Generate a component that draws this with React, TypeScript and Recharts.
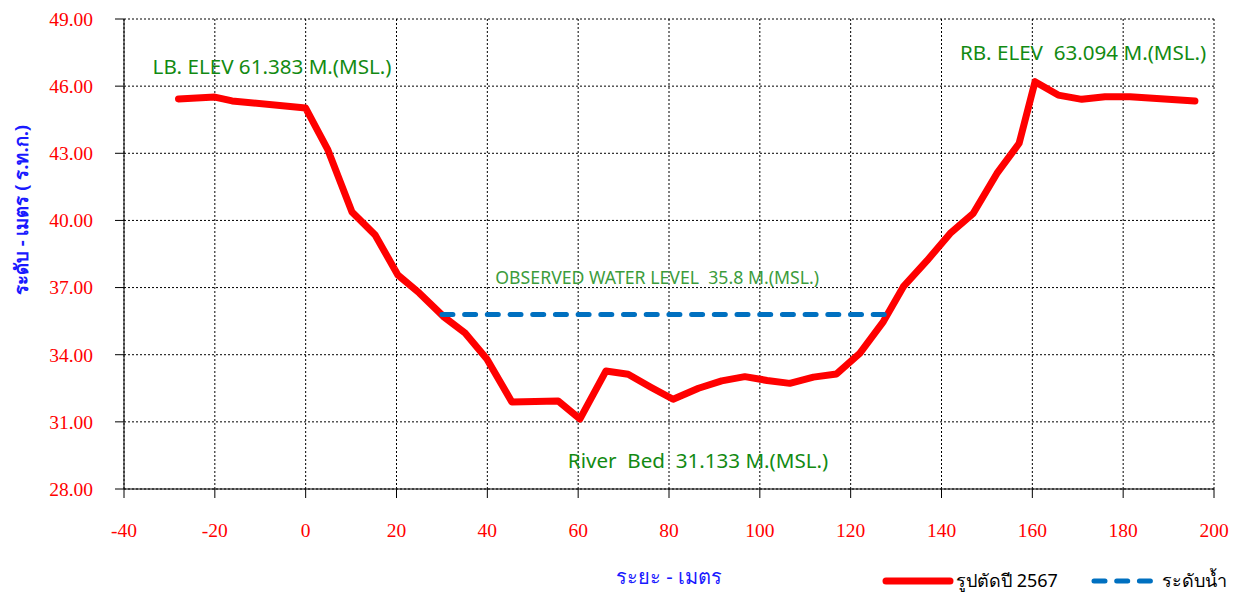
import React from 'react';
import {
  LineChart, Line, XAxis, YAxis, CartesianGrid, ReferenceDot,
} from 'recharts';

// cross-section survey points (distance m, elevation m MSL)
const distances = [-28, -20, -16.2, 0, 4.9, 10.2, 15.3, 20.3, 25, 30.5, 35.1, 39.9, 45.4, 55.6, 60.4, 66.1, 71, 76, 80.9, 86.5, 91.6, 96.7, 101.6, 106.6, 111.8, 116.9, 122, 127.2, 131.6, 136.8, 141.9, 147, 152.2, 157.1, 160.6, 165.7, 170.9, 176, 181.5, 195.8];
const elevations = [45.43, 45.51, 45.34, 45.02, 43.15, 40.38, 39.35, 37.56, 36.76, 35.68, 34.97, 33.81, 31.89, 31.93, 31.13, 33.27, 33.13, 32.55, 32.01, 32.5, 32.83, 33.02, 32.85, 32.72, 33.0, 33.14, 34.06, 35.48, 37.04, 38.2, 39.42, 40.32, 42.1, 43.45, 46.2, 45.6, 45.41, 45.53, 45.53, 45.34];

const waterX = [30, 127.8];
const waterLevel = [35.8, 35.8];

const xTicks = [-40, -20, 0, 20, 40, 60, 80, 100, 120, 140, 160, 180, 200];
const yTicks = [28, 31, 34, 37, 40, 43, 46, 49];

const noteText = [
  'LB. ELEV 61.383 M.(MSL.)',
  'RB. ELEV\u00a0\u00a063.094 M.(MSL.)',
  'OBSERVED WATER LEVEL\u00a0\u00a035.8 M.(MSL.)',
  'River\u00a0\u00a0Bed\u00a0\u00a031.133 M.(MSL.)',
];
const noteX = [-7.4, 171.2, 77.4, 86.4];
const noteY = [46.86, 47.48, 37.43, 29.25];

const seriesNames = ['รูปตัดปี 2567', 'ระดับน้ำ'];

const profile = distances.map((x, i) => ({ x, y: elevations[i] }));
const water = waterX.map((x, i) => ({ x, y: waterLevel[i] }));

const tickFont = { fill: '#ff0000', fontSize: 19.5, fontFamily: '"Liberation Serif", serif' };

const YTitle = (props: any) => {
  const { viewBox } = props;
  const cx = viewBox.x + 20;
  const cy = 210;
  return (
    <text
      x={cx}
      y={cy}
      transform={`rotate(-90, ${cx}, ${cy})`}
      textAnchor="middle"
      dominantBaseline="central"
      fill="#1a1aff"
      fontWeight="bold"
      fontSize={18.5}
      fontFamily='"Noto Sans", sans-serif'
    >
      ระดับ - เมตร ( ร.ท.ก.)
    </text>
  );
};

export default function App() {
  return (
    <div style={{ position: 'absolute', left: 0, top: 0, width: 1239, height: 595, background: '#fff' }}>
      <LineChart
        width={1239}
        height={595}
        margin={{ top: 19, right: 25, left: 0, bottom: 0 }}
      >
        <CartesianGrid stroke="#000" strokeDasharray="2 2" strokeWidth={1} />
        <XAxis
          type="number"
          dataKey="x"
          domain={[-40, 200]}
          ticks={xTicks}
          height={106}
          tickSize={9}
          tickMargin={25}
          tick={tickFont}
          stroke="#000"
          allowDataOverflow
          label={{
            value: 'ระยะ - เมตร',
            position: 'insideBottom',
            offset: 11,
            fill: '#1a1aff',
            fontSize: 20,
            fontFamily: '"Noto Sans", sans-serif',
          }}
        />
        <YAxis
          type="number"
          domain={[28, 49]}
          ticks={yTicks}
          width={124}
          tickSize={9}
          tickMargin={22}
          tick={tickFont}
          stroke="#000"
          tickFormatter={(v: number) => v.toFixed(2)}
          label={<YTitle />}
        />
        <Line
          data={profile}
          dataKey="y"
          stroke="#ff0000"
          strokeWidth={7}
          strokeLinejoin="round"
          strokeLinecap="round"
          dot={false}
          isAnimationActive={false}
        />
        <Line
          data={water}
          dataKey="y"
          stroke="#0070c0"
          strokeWidth={5}
          strokeDasharray="11 11.7"
          strokeLinecap="round"
          dot={false}
          isAnimationActive={false}
        />
        {noteText.map((t, i) => (
          <ReferenceDot
            key={t}
            x={noteX[i]}
            y={noteY[i]}
            r={0}
            stroke="none"
            fill="none"
            label={{
              value: t,
              position: 'center',
              fill: i === 2 ? '#3c9c3c' : '#128a12',
              fontSize: i === 2 ? 17.7 : 20.6,
              fontFamily: '"Noto Sans", sans-serif',
            }}
          />
        ))}
      </LineChart>
      <div style={{ position: 'absolute', left: 882, top: 566, display: 'flex', alignItems: 'center', fontFamily: '"Noto Sans", sans-serif', fontSize: 18, color: '#000' }}>
        <svg width={72} height={20}>
          <line x1={4} y1={10} x2={68} y2={10} stroke="#ff0000" strokeWidth={7} strokeLinecap="round" />
        </svg>
        <span style={{ marginLeft: 2 }}>{seriesNames[0]}</span>
        <svg width={72} height={20} style={{ marginLeft: 30 }}>
          <line x1={6} y1={10} x2={66} y2={10} stroke="#0070c0" strokeWidth={5} strokeDasharray="11 11.7" strokeLinecap="round" />
        </svg>
        <span style={{ marginLeft: 2 }}>{seriesNames[1]}</span>
      </div>
    </div>
  );
}
